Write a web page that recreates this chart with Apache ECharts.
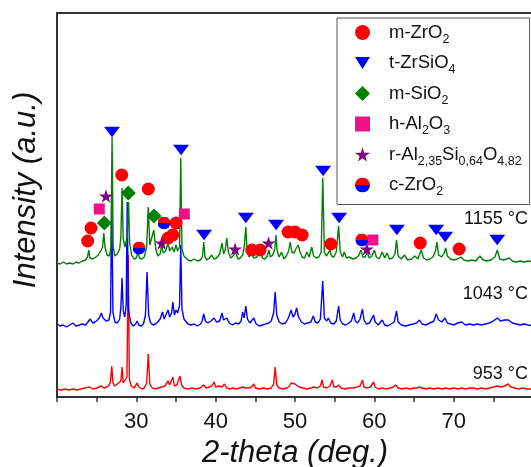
<!DOCTYPE html>
<html>
<head>
<meta charset="utf-8">
<script src="https://cdn.jsdelivr.net/npm/echarts@6/dist/echarts.min.js"></script>
<style>html,body{margin:0;padding:0;background:#fff;}#c{width:531px;height:467px;}</style>
</head>
<body>
<div id="c"></div>
<script>
// ---- data (2-theta in degrees, intensity in arbitrary units incl. vertical offset) ----
const xTicks = [30, 40, 50, 60, 70];
const tempLabels = ['1155 °C', '1043 °C', '953 °C'];
const tempLabelY = [177, 102, 22];   // intensity level for each label

const trace1155 = [[20.0,134],[20.4,133],[20.8,135],[21.2,133],[21.6,134],[22.0,133],[22.4,135],[22.8,134],[23.2,136],[23.6,137],[23.85,140],[24.0,147],[24.15,139],[24.5,138],[24.9,140],[25.2,142],[25.5,146],[25.75,150],[25.9,164],[26.05,150],[26.3,142],[26.6,141],[26.8,150],[26.94,260],[27.08,150],[27.3,141],[27.6,143],[27.9,148],[28.05,160],[28.2,209],[28.35,158],[28.55,150],[28.85,160],[29.02,195],[29.15,155],[29.4,142],[29.7,138],[30.0,139],[30.2,145],[30.4,139],[30.7,138],[31.0,140],[31.3,150],[31.5,190],[31.7,152],[31.95,150],[32.2,167],[32.45,148],[32.7,141],[33.0,143],[33.2,152],[33.4,144],[33.7,146],[34.0,154],[34.2,146],[34.5,150],[34.75,145],[35.0,152],[35.2,146],[35.45,150],[35.6,239],[35.75,148],[36.0,141],[36.2,142],[36.5,137],[36.9,136],[37.3,138],[37.7,136],[38.1,137],[38.35,141],[38.5,155],[38.65,140],[38.9,137],[39.2,139],[39.5,142],[39.8,138],[40.1,139],[40.5,143],[40.8,154],[41.0,143],[41.2,147],[41.4,159],[41.6,145],[41.9,139],[42.2,141],[42.5,145],[42.8,138],[43.1,139],[43.4,142],[43.6,150],[43.8,170],[43.95,148],[44.2,140],[44.5,145],[44.8,139],[45.2,140],[45.6,147],[45.9,139],[46.2,138],[46.5,141],[46.7,147],[46.9,140],[47.2,142],[47.45,148],[47.6,162],[47.75,146],[48.0,140],[48.3,145],[48.6,138],[48.9,141],[49.2,146],[49.4,155],[49.6,145],[49.9,144],[50.1,148],[50.4,152],[50.6,146],[50.9,140],[51.2,139],[51.5,145],[51.8,140],[52.1,150],[52.35,141],[52.7,139],[53.0,140],[53.3,145],[53.5,219],[53.7,145],[53.95,141],[54.2,144],[54.4,147],[54.6,141],[54.9,140],[55.2,145],[55.5,171],[55.7,145],[56.0,140],[56.2,145],[56.5,139],[56.8,140],[57.0,142],[57.3,138],[57.7,139],[58.0,141],[58.3,147],[58.55,140],[58.85,140],[59.1,145],[59.35,139],[59.7,141],[60.0,147],[60.25,140],[60.6,138],[61.0,145],[61.3,139],[61.6,144],[61.9,138],[62.3,139],[62.6,143],[62.8,157],[63.0,141],[63.4,138],[63.8,142],[64.2,137],[64.7,138],[65.1,141],[65.5,138],[65.9,147],[66.2,139],[66.6,137],[67.0,138],[67.4,140],[67.7,146],[67.9,155],[68.1,142],[68.5,140],[68.8,144],[69.0,149],[69.2,141],[69.6,138],[70.0,137],[70.5,138],[70.9,140],[71.3,137],[71.8,136],[72.3,137],[72.8,136],[73.3,141],[73.7,137],[74.2,136],[74.7,137],[75.2,140],[75.5,147],[75.8,138],[76.3,137],[76.7,138],[77.0,139],[77.4,136],[77.9,135],[78.4,136],[78.9,135],[79.4,136],[80.0,135]];

const trace1043 = [[20.0,73],[20.4,71],[20.8,72],[21.2,70],[21.6,72],[22.0,74],[22.4,71],[22.8,72],[23.2,73],[23.6,72],[23.9,75],[24.2,78],[24.5,74],[24.8,75],[25.1,77],[25.4,80],[25.6,84],[25.8,79],[26.2,76],[26.55,77],[26.75,85],[26.9,197],[27.05,85],[27.3,75],[27.6,74],[27.9,78],[28.05,90],[28.2,119],[28.35,86],[28.55,80],[28.72,92],[28.85,195],[29.0,88],[29.3,74],[29.6,71],[29.9,73],[30.1,76],[30.3,72],[30.6,71],[30.9,73],[31.15,82],[31.35,125],[31.55,82],[31.8,74],[32.1,72],[32.4,73],[32.7,75],[33.0,78],[33.3,85],[33.5,78],[33.75,80],[34.0,87],[34.2,80],[34.45,84],[34.6,95],[34.8,82],[35.0,87],[35.2,84],[35.45,92],[35.6,152],[35.75,88],[36.0,78],[36.2,79],[36.5,73],[36.9,72],[37.3,73],[37.7,71],[38.1,73],[38.3,76],[38.5,83],[38.7,76],[39.0,74],[39.4,76],[39.8,79],[40.1,75],[40.5,76],[40.8,84],[41.0,77],[41.2,76],[41.4,79],[41.7,74],[42.1,72],[42.5,74],[42.9,73],[43.2,76],[43.4,85],[43.6,79],[43.8,91],[44.0,78],[44.3,74],[44.8,79],[45.1,73],[45.5,71],[45.9,72],[46.3,73],[46.7,74],[47.0,76],[47.3,84],[47.5,105],[47.7,82],[48.0,75],[48.4,73],[48.8,74],[49.1,78],[49.3,82],[49.5,87],[49.75,80],[50.0,83],[50.2,89],[50.45,80],[50.8,75],[51.2,73],[51.6,74],[52.0,75],[52.3,81],[52.55,75],[52.9,74],[53.2,78],[53.5,116],[53.7,79],[54.0,76],[54.2,79],[54.5,74],[54.9,73],[55.2,76],[55.5,91],[55.7,77],[56.0,73],[56.4,72],[56.8,74],[57.1,76],[57.4,84],[57.6,76],[57.9,74],[58.2,78],[58.5,88],[58.7,77],[59.0,73],[59.4,74],[59.9,82],[60.1,75],[60.5,72],[61.0,77],[61.3,72],[61.7,71],[62.1,73],[62.5,75],[62.8,86],[63.0,75],[63.4,72],[63.9,71],[64.4,72],[64.9,73],[65.3,74],[65.7,77],[66.0,73],[66.5,72],[67.0,74],[67.5,76],[67.8,83],[68.1,77],[68.5,75],[68.9,79],[69.2,74],[69.6,73],[70.0,72],[70.5,74],[71.0,75],[71.5,72],[72.0,73],[72.5,72],[73.0,73],[73.5,72],[74.0,73],[74.5,74],[75.0,76],[75.5,79],[75.9,76],[76.4,77],[76.9,77],[77.4,74],[77.9,73],[78.4,72],[78.9,73],[79.4,72],[80.0,71]];

const trace953 = [[20.0,8],[20.5,7],[21.0,8],[21.5,7],[22.0,8],[22.5,7],[23.0,8],[23.5,9],[24.1,10],[24.5,8],[25.0,9],[25.3,10],[25.6,11],[25.9,9],[26.3,10],[26.6,12],[26.75,16],[26.9,31],[27.05,14],[27.3,11],[27.6,13],[27.85,12],[28.05,16],[28.2,30],[28.35,14],[28.6,12],[28.82,20],[28.97,142],[29.12,18],[29.35,11],[29.7,9],[29.95,11],[30.1,14],[30.3,10],[30.7,8],[31.0,9],[31.3,14],[31.5,43],[31.7,13],[32.0,9],[32.4,8],[32.8,9],[33.2,10],[33.6,11],[34.0,16],[34.2,12],[34.45,13],[34.6,20],[34.8,11],[35.1,12],[35.35,14],[35.5,21],[35.7,12],[36.0,9],[36.5,8],[37.0,9],[37.5,8],[38.0,9],[38.5,12],[38.8,9],[39.2,10],[39.5,11],[39.8,15],[40.0,10],[40.4,11],[40.8,10],[41.1,13],[41.4,9],[41.8,8],[42.2,9],[42.6,8],[43.0,9],[43.4,10],[43.8,9],[44.2,9],[44.5,10],[44.8,13],[45.0,9],[45.5,8],[46.0,9],[46.5,8],[47.0,9],[47.3,13],[47.5,30],[47.7,12],[48.0,9],[48.5,8],[49.0,9],[49.3,11],[49.5,14],[49.75,12],[50.0,13],[50.2,15],[50.5,10],[51.0,9],[51.5,8],[52.0,9],[52.4,10],[52.8,9],[53.2,11],[53.4,17],[53.6,10],[54.0,9],[54.4,11],[54.7,17],[54.9,10],[55.2,10],[55.5,12],[55.8,9],[56.3,8],[56.8,9],[57.3,9],[57.8,10],[58.2,11],[58.5,17],[58.7,10],[59.1,9],[59.5,10],[59.9,15],[60.1,10],[60.5,8],[61.0,9],[61.5,8],[62.0,9],[62.4,10],[62.7,12],[63.0,9],[63.5,8],[64.0,9],[64.5,8],[65.0,9],[65.4,9],[65.7,10],[66.0,9],[66.5,8],[67.0,9],[67.5,8],[68.0,9],[68.5,8],[69.0,9],[69.5,8],[70.0,9],[70.5,8],[71.0,9],[71.5,8],[72.0,9],[72.5,9],[73.0,8],[73.5,9],[74.0,8],[74.5,9],[75.0,10],[75.5,11],[75.9,10],[76.4,11],[76.9,13],[77.2,10],[77.7,9],[78.2,8],[78.7,9],[79.2,8],[80.0,8]];

// phase markers (2-theta, marker height)
const mZrO2 = [[23.87,156],[24.29,169],[28.16,222],[31.51,208],[34.0,159],[34.59,162],[35.0,174],[44.55,147],[45.6,147],[49.13,165],[50.01,165],[50.9,162],[54.51,153],[65.78,154],[70.69,148]];
const tZrSiO4 = [[26.94,265],[35.64,247],[38.54,162],[43.8,179],[47.62,172],[53.54,226],[55.56,179],[62.84,167],[67.79,167],[68.93,160],[75.49,157]];
const mSiO2 = [[25.96,174],[28.99,204],[32.23,181]];
const hAl2O3 = [[25.33,188],[36.05,183],[59.81,157]];
const rAlSiO = [[26.18,201],[33.2,154],[42.45,148],[46.67,154],[59.05,148]];
const cZrO2 = [[30.34,149],[33.49,174],[58.42,157]];

const phaseNames = ['m-ZrO2', 't-ZrSiO4', 'm-SiO2', 'h-Al2O3', 'r-Al2,35Si0,64O4,82', 'c-ZrO2'];
const phaseLabels = {
  'm-ZrO2': '{f|m-ZrO}{s|2}',
  't-ZrSiO4': '{f|t-ZrSiO}{s|4}',
  'm-SiO2': '{f|m-SiO}{s|2}',
  'h-Al2O3': '{f|h-Al}{s|2}{n|O}{s|3}',
  'r-Al2,35Si0,64O4,82': '{f|r-Al}{s|2,35}{n|Si}{s|0,64}{n|O}{s|4,82}',
  'c-ZrO2': '{f|c-ZrO}{s|2}'
};

// ---- symbols ----
const triDown = 'path://M0,0L16,0L8,13Z';
const star = 'path://M50,0L61,35L98,35L68,57L79,91L50,70L21,91L32,57L2,35L39,35Z';
const halfSvg = "<svg xmlns='http://www.w3.org/2000/svg' width='40' height='40' viewBox='0 0 40 40'><path d='M0,20A20,20 0 0 1 40,20Z' fill='#ff0000'/><path d='M0,20A20,20 0 0 0 40,20Z' fill='#0000ff'/></svg>";
const halfCircle = 'image://data:image/svg+xml;charset=utf-8,' + encodeURIComponent(halfSvg);

const FONT = 'Liberation Sans, Arial, sans-serif';
const chart = echarts.init(document.getElementById('c'), null, {renderer: 'canvas'});

function lineSeries(name, data, color) {
  return {name, type: 'line', data, showSymbol: false, symbol: 'none', smooth: false,
    lineStyle: {color, width: 1.4}, itemStyle: {color}, animation: false, silent: true, z: 2};
}
function scatterSeries(name, data, symbol, size, color) {
  return {name, type: 'scatter', data, symbol, symbolSize: size, symbolKeepAspect: true,
    itemStyle: {color, opacity: 1}, animation: false, z: 5};
}

const option = {
  backgroundColor: '#fff',
  animation: false,
  grid: {left: 57, top: 13, width: 476, height: 384, containLabel: false, outerBoundsMode: 'none'},
  xAxis: [{
    type: 'value', min: 20, max: 80, interval: 5,
    axisLine: {show: true, onZero: false, lineStyle: {color: '#333', width: 2}},
    axisTick: {show: true, inside: false, length: 5, lineStyle: {color: '#333', width: 1.5}},
    axisLabel: {fontSize: 22, color: '#111', fontFamily: FONT, margin: 14,
      formatter: v => (xTicks.indexOf(v) >= 0 ? String(v) : '')},
    splitLine: {show: false},
    name: '2-theta (deg.)', nameLocation: 'middle', nameGap: 41,
    nameTextStyle: {fontSize: 31, fontStyle: 'italic', color: '#111', fontFamily: FONT}
  }, {
    type: 'value', min: 20, max: 80, position: 'top',
    axisLine: {show: true, onZero: false, lineStyle: {color: '#333', width: 2}},
    axisTick: {show: false}, axisLabel: {show: false}, splitLine: {show: false}
  }],
  yAxis: {
    type: 'value', min: 0, max: 384,
    axisLine: {show: true, onZero: false, lineStyle: {color: '#333', width: 2}},
    axisTick: {show: false}, axisLabel: {show: false}, splitLine: {show: false},
    name: 'Intensity (a.u.)', nameLocation: 'middle', nameGap: 15, nameRotate: 90,
    nameTextStyle: {fontSize: 31, fontStyle: 'italic', color: '#111', fontFamily: FONT, padding: [0, 0, 0, 30]}
  },
  legend: {
    orient: 'vertical', left: 337, top: 18,
    padding: [5, 8, 6, 18], itemGap: 7.5, itemWidth: 15, itemHeight: 15,
    borderColor: '#555', borderWidth: 1, backgroundColor: '#fff',
    selectedMode: false,
    data: [
      {name: phaseNames[0], icon: 'circle'},
      {name: phaseNames[1], icon: triDown},
      {name: phaseNames[2], icon: 'diamond'},
      {name: phaseNames[3], icon: 'rect'},
      {name: phaseNames[4], icon: star},
      {name: phaseNames[5], icon: halfCircle}
    ],
    formatter: name => phaseLabels[name],
    textStyle: {
      color: '#111', fontFamily: FONT, fontSize: 18.5,
      rich: {
        f: {fontSize: 18.5, fontFamily: FONT, color: '#111', padding: [0, 0, 0, 14]},
        n: {fontSize: 18.5, fontFamily: FONT, color: '#111'},
        s: {fontSize: 12.5, fontFamily: FONT, color: '#111', padding: [14, 0, 0, 0]}
      }
    }
  },
  series: [
    lineSeries('953', trace953, '#ff0000'),
    lineSeries('1043', trace1043, '#0000ff'),
    lineSeries('1155', trace1155, '#008000'),
    scatterSeries(phaseNames[0], mZrO2, 'circle', 13, '#ff0000'),
    scatterSeries(phaseNames[1], tZrSiO4, triDown, [16, 13], '#0000ff'),
    scatterSeries(phaseNames[2], mSiO2, 'diamond', [15, 15], '#008000'),
    scatterSeries(phaseNames[3], hAl2O3, 'rect', [11, 11], '#ee1188'),
    scatterSeries(phaseNames[4], rAlSiO, star, [14, 14], '#800080'),
    scatterSeries(phaseNames[5], cZrO2, halfCircle, [13, 13], '#ff0000')
  ]
};
chart.setOption(option);

// place temperature labels at their intensity levels using the chart's own scale
const labelGraphics = tempLabels.map((t, i) => {
  const p = chart.convertToPixel({gridIndex: 0}, [80, tempLabelY[i]]);
  return {type: 'text', right: 3, top: p[1] - 10, z: 10,
    style: {text: t, font: '18px ' + FONT, fill: '#111'}};
});
chart.setOption({graphic: labelGraphics});
</script>
</body>
</html>
